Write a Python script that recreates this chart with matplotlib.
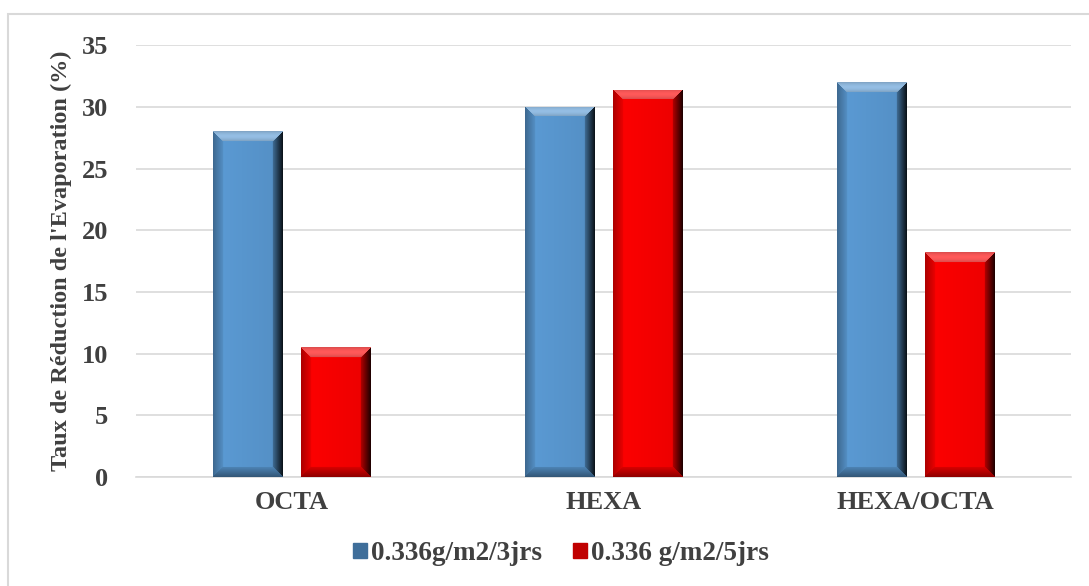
import numpy as np
import matplotlib
matplotlib.use("Agg")
import matplotlib.pyplot as plt
from matplotlib.patches import Patch, Rectangle
from matplotlib.colors import to_rgb

categories = ["OCTA", "HEXA", "HEXA/OCTA"]
series_names = ["0.336g/m2/3jrs", "0.336 g/m2/5jrs"]
values_3jrs = [28.0, 30.0, 32.0]
values_5jrs = [10.5, 31.4, 18.2]
yticks = [0, 5, 10, 15, 20, 25, 30, 35]
ylabel = "Taux de Réduction de l'Evaporation (%)"

colors = ["#5B9BD5", "#FF0000"]
text_color = "#404040"

plt.rcParams["font.family"] = ["Liberation Serif", "DejaVu Serif"]
plt.rcParams["font.weight"] = "bold"

fig = plt.figure(figsize=(10.89, 5.86), dpi=100)
ax = fig.add_axes([0.1249, 0.186, 0.859, 0.737])

x = np.arange(len(categories))
w = 0.224
off = 0.141
bars_a = ax.bar(x - off, values_3jrs, w, color=colors[0], zorder=3)
bars_b = ax.bar(x + off, values_5jrs, w, color=colors[1], zorder=3)

ax.set_xlim(-0.5, len(categories) - 0.5)
ax.set_ylim(0, 35)
ax.set_yticks(yticks)
ax.set_xticks(x)
ax.set_xticklabels(categories)
ax.grid(axis="y", color="#D9D9D9", linewidth=1.2, zorder=0)
for s in ["top", "right", "left"]:
    ax.spines[s].set_visible(False)
ax.spines["bottom"].set_color("#D9D9D9")
ax.spines["bottom"].set_linewidth(1.2)
ax.tick_params(axis="both", length=0, labelsize=19, colors=text_color, pad=10)
ax.tick_params(axis="y", pad=20)
ax.set_ylabel(ylabel, fontsize=17.5, fontweight="bold", color=text_color,
              labelpad=7)


def bevel_image(base, wpx, hpx, b=10):
    """Shade a bar of wpx x hpx pixels with bevelled edges."""
    c = np.array(to_rgb(base))
    wpx, hpx = max(int(wpx), 2), max(int(hpx), 2)
    jj, ii = np.meshgrid(np.arange(wpx), np.arange(hpx))
    dl = jj + 0.5
    dr = wpx - jj - 0.5
    dt = ii + 0.5
    db = hpx - ii - 0.5
    img = np.tile(c, (hpx, wpx, 1)).astype(float)
    # gentle darkening across the face
    shade = 1 - 0.08 * (jj / wpx)
    img *= shade[..., None]
    dmin = np.minimum(np.minimum(dl, dr), np.minimum(dt, db))
    inb = dmin < b
    t = np.clip(1 - dmin / b, 0, 1)
    top = inb & (dt == dmin)
    bot = inb & (db == dmin) & ~top
    rgt = inb & (dr == dmin) & ~top & ~bot
    lft = inb & (dl == dmin) & ~top & ~bot & ~rgt
    light = c + (1 - c) * 0.35
    img[top] = light * (0.85 + 0.15 * np.sin(np.pi * t[top]))[:, None]
    img[bot] = c * (0.85 - 0.3 * t[bot])[:, None]
    img[rgt] = c * (0.7 - 0.6 * t[rgt])[:, None]
    img[lft] = c * (0.92 - 0.25 * t[lft])[:, None]
    return np.clip(img, 0, 1)


fig.canvas.draw()
for bars, col in [(bars_a, colors[0]), (bars_b, colors[1])]:
    for p in bars:
        x0, y0 = p.get_x(), p.get_y()
        x1, y1 = x0 + p.get_width(), y0 + p.get_height()
        (px0, py0), (px1, py1) = ax.transData.transform([(x0, y0), (x1, y1)])
        img = bevel_image(col, px1 - px0, py1 - py0)
        im = ax.imshow(img, extent=(x0, x1, y0, y1), origin="upper",
                       aspect="auto", zorder=4, interpolation="bilinear")
        im.set_clip_path(p)
ax.set_xlim(-0.5, len(categories) - 0.5)
ax.set_ylim(0, 35)

handles = [Patch(facecolor=c, edgecolor=c) for c in ["#3F6E9A", "#C00000"]]
fig.legend(handles, series_names, loc="center", bbox_to_anchor=(0.515, 0.055),
           ncol=2, frameon=False, fontsize=19.5, handlelength=0.5,
           handleheight=0.5, handletextpad=0.15, columnspacing=1.15,
           labelcolor=text_color)

fig.patches.append(Rectangle((8 / 1089, -0.01), 1.0, 1 - 14 / 586 + 0.01,
                             transform=fig.transFigure, fill=False,
                             edgecolor="#D9D9D9", linewidth=1.5))

fig.savefig("out.png", dpi=100)
